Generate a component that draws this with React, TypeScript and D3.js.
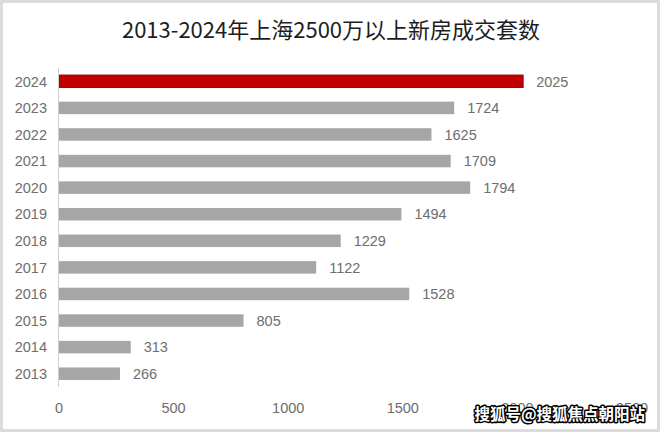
import React, { useEffect } from 'react';
import * as d3 from 'd3';

const years = ['2024', '2023', '2022', '2021', '2020', '2019', '2018', '2017', '2016', '2015', '2014', '2013'];
const counts = [2025, 1724, 1625, 1709, 1794, 1494, 1229, 1122, 1528, 805, 313, 266];
const xTicks = [0, 500, 1000, 1500, 2000, 2500];
const highlightYear = '2024';

const title = '2013-2024年上海2500万以上新房成交套数';
const watermark = '搜狐号@搜狐焦点朝阳站';

const W = 660;
const H = 432;

export default function App() {
  useEffect(() => {
    document.body.style.margin = '0';
  }, []);

  const x = d3.scaleLinear().domain([0, 2500]).range([59, 632]);
  const y = d3
    .scaleBand<string>()
    .domain(years)
    .range([68, 387])
    .paddingInner(0.53)
    .paddingOuter(0.265);

  const labelFont = '"Liberation Sans", Arial, sans-serif';
  const textColor = '#6e6e6e';

  return (
    <svg width={W} height={H} style={{ display: 'block', background: '#fff' }}>
      <rect x={1.5} y={1.5} width={W - 3} height={H - 3} fill="#fff" stroke="#dcdcdc" strokeWidth={3} />
      <text
        x={331}
        y={38}
        textAnchor="middle"
        fontFamily='"Noto Sans CJK SC", sans-serif'
        fontSize={22}
        fill="#1e1e1e"
      >
        {title}
      </text>

      {/* bars */}
      {years.map((yr, i) => (
        <g key={yr}>
          <rect
            x={x(0)}
            y={y(yr)!}
            width={x(counts[i]) - x(0)}
            height={y.bandwidth()}
            fill={yr === highlightYear ? '#c00000' : '#a6a6a6'}
            stroke={yr === highlightYear ? '#a00000' : 'none'}
            strokeWidth={1}
          />
          <text
            x={x(counts[i]) + 13}
            y={y(yr)! + y.bandwidth() / 2}
            dy="0.36em"
            fontFamily={labelFont}
            fontSize={14.5}
            fill={textColor}
          >
            {counts[i]}
          </text>
          <text
            x={47}
            y={y(yr)! + y.bandwidth() / 2}
            dy="0.36em"
            textAnchor="end"
            fontFamily={labelFont}
            fontSize={14.5}
            fill={textColor}
          >
            {yr}
          </text>
        </g>
      ))}

      {/* axis line */}
      <line x1={x(0) - 0.5} x2={x(0) - 0.5} y1={68} y2={387} stroke="#d0d0d0" strokeWidth={1} />

      {/* x tick labels */}
      {xTicks.map((t) => (
        <text
          key={t}
          x={x(t)}
          y={408}
          dy="0.36em"
          textAnchor="middle"
          fontFamily={labelFont}
          fontSize={14.5}
          fill={textColor}
        >
          {t}
        </text>
      ))}

      {/* watermark */}
      <text
        x={645}
        y={420}
        textAnchor="end"
        fontFamily='"Noto Sans CJK SC", sans-serif'
        fontWeight="bold"
        fontSize={15.5}
        fill="#fff"
        stroke="#000"
        strokeWidth={3}
        paintOrder="stroke"
        strokeLinejoin="round"
      >
        {watermark}
      </text>
    </svg>
  );
}
